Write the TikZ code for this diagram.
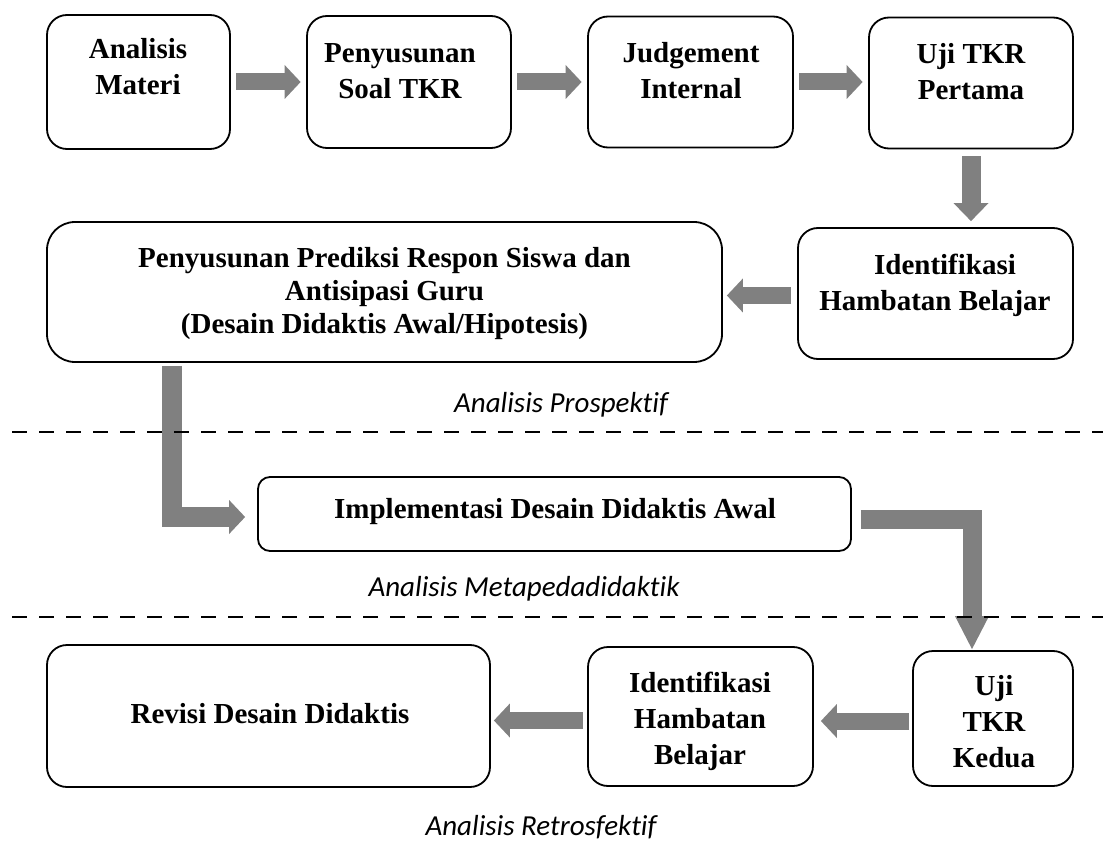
\documentclass[tikz,border=0pt]{standalone}
\usepackage{fontspec}
\setmainfont{Liberation Serif}
\newfontfamily\labelfont[Ligatures=NoCommon]{Carlito}
\usetikzlibrary{arrows.meta}
\begin{document}
\begin{tikzpicture}[x=1pt,y=-1pt,
  box/.style={draw, line width=1.8pt, rounded corners=20pt, inner sep=0pt},
  txt/.style={font=\bfseries\fontsize{29}{36}\selectfont, align=center, inner sep=0pt, anchor=north},
  txtone/.style={font=\bfseries\fontsize{29}{36}\selectfont, inner sep=0pt, anchor=base},
  lbl/.style={font=\labelfont\itshape\fontsize{29}{35}\selectfont, inner sep=0pt, anchor=base},
  fat/.style={draw=gray, line width=17pt, -{Triangle[width=34pt,length=16pt,line width=0pt]}},
  dashline/.style={line width=2.5pt, dash pattern=on 15pt off 12pt}
]
\useasboundingbox (0,0) rectangle (1103,850);
\fill[white] (0,0) rectangle (1103,850);

% boxes
\node[box, minimum width=183pt, minimum height=134pt] (am) at (138.5,82) {};
\node[box, minimum width=204pt, minimum height=132pt] (ps) at (409,82) {};
\node[box, minimum width=205pt, minimum height=131pt] (ji) at (690.5,82) {};
\node[box, minimum width=204pt, minimum height=131pt] (u1) at (971,83) {};
\node[box, minimum width=275pt, minimum height=131pt] (i1) at (935.5,293.5) {};
\node[box, rounded corners=28pt, minimum width=675pt, minimum height=140pt] (big) at (384.5,292) {};
\node[box, rounded corners=12pt, minimum width=593pt, minimum height=74pt] (impl) at (554.5,514) {};
\node[box, minimum width=160pt, minimum height=135pt] (u2) at (993,718.5) {};
\node[box, minimum width=225pt, minimum height=139pt] (i2) at (700.5,716.5) {};
\node[box, minimum width=443pt, minimum height=142pt] (rev) at (268.5,716) {};

% texts
\node[txt] (tam) at (138,38) {Analisis\\Materi};
\node[txt] (tps) at (400,43) {Penyusunan\\Soal TKR};
\node[txt] (tji) at (691,42) {Judgement\\Internal};
\node[txt] (tu1) at (971,43) {Uji TKR\\Pertama};
\node[txt] (ti1) at (935,254) {\hspace*{20pt}Identifikasi\\Hambatan Belajar};
\node[txt, font=\bfseries\fontsize{29}{33}\selectfont] (tbig) at (384.5,247) {Penyusunan Prediksi Respon Siswa dan\\Antisipasi Guru\\(Desain Didaktis Awal/Hipotesis)};
\node[txtone] (timpl) at (555,518) {Implementasi Desain Didaktis Awal};
\node[txtone] (trev) at (270,723) {Revisi Desain Didaktis};
\node[txt] (ti2) at (700,672) {Identifikasi\\Hambatan\\Belajar};
\node[txt] (tu2) at (994,675) {Uji\\TKR\\Kedua};

% arrows
\draw[fat, shorten <=5.5pt, shorten >=5.5pt] (am.east) -- (am.east -| ps.west);
\draw[fat, shorten <=5.5pt, shorten >=5.5pt] (ps.west -| ps.east) -- (ps.west -| ji.west);
\draw[fat, shorten <=5.5pt, shorten >=5.5pt] (ji.east) -- (ji.east -| u1.west);
\draw[fat, line width=19pt, -{Triangle[width=35pt,length=18pt,line width=0pt]}, shorten <=7pt, shorten >=6pt] (u1.south) -- (u1.south |- i1.north);
\draw[fat, shorten <=6pt, shorten >=4pt] ([yshift=-2pt]i1.west) -- ([yshift=-2pt]i1.west -| big.east);
\draw[fat, line width=20pt, shorten >=12pt] ([xshift=126pt,yshift=-3pt]big.south west) |- ([yshift=-3pt]impl.west);
\draw[fat, line width=19pt, -{Triangle[width=34pt,length=33pt,line width=0pt]}, shorten <=9pt, shorten >=1pt] ([yshift=-5.5pt]impl.east) -| ([xshift=-21pt]u2.north);
\draw[fat, shorten <=3pt, shorten >=7pt] ([yshift=-2.5pt]u2.west) -- ([yshift=-2.5pt]u2.west -| i2.east);
\draw[fat, shorten <=4pt, shorten >=3pt] ([yshift=-4pt]i2.west) -- ([yshift=-4pt]i2.west -| rev.east);

% phase separators
\draw[dashline] (12,432) -- (1103,432);
\draw[dashline] (12,617) -- (1103,617);

% phase labels
\node[lbl] (lp) at (561,412) {Analisis Prospektif};
\node[lbl] (lm) at (524,596) {Analisis Metapedadidaktik};
\node[lbl] (lr) at (541,835) {Analisis Retrosfektif};
\end{tikzpicture}
\end{document}
